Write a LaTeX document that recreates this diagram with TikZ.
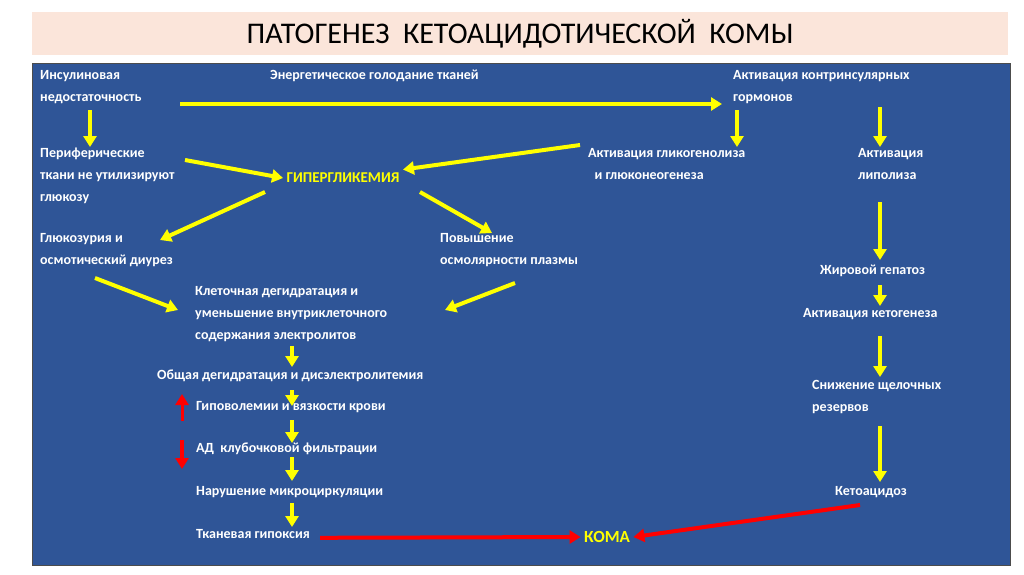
\documentclass[tikz,border=0pt]{standalone}
\usepackage{fontspec}
\setmainfont{Carlito}
\usetikzlibrary{arrows.meta}
\definecolor{panel}{HTML}{2F5597}
\definecolor{titlebg}{HTML}{FBE5DA}
\definecolor{yel}{HTML}{FFFF00}
\definecolor{redar}{HTML}{FF0000}
\tikzset{
  txt/.style={anchor=north west,align=left,text=white,font=\fontsize{14}{22}\selectfont\bfseries,inner sep=0pt},
  yarr/.style={draw=yel,line width=4pt,-{Triangle[length=11pt,width=13pt]}},
  rarr/.style={draw=redar,line width=4pt,-{Triangle[length=11pt,width=13pt]}}
}
\begin{document}
\begin{tikzpicture}[x=1pt,y=-1pt]
\useasboundingbox (0,0) rectangle (1024,574);
\fill[titlebg] (32,12) rectangle (1008,55);
\node[font=\fontsize{30}{32}\selectfont] (title) at (520,34) {ПАТОГЕНЕЗ\ \ КЕТОАЦИДОТИЧЕСКОЙ\ \ КОМЫ};
\filldraw[fill=panel,draw=gray!60!black,line width=1pt] (32,63) rectangle (1010,565);

\node[txt] (ins) at (40,70) {Инсулиновая\\недостаточность};
\node[txt] (en) at (270,70) {Энергетическое голодание тканей};
\node[txt] (akt) at (733,70) {Активация контринсулярных\\гормонов};
\node[txt] (per) at (40,148) {Периферические\\ткани не утилизируют\\глюкозу};
\node[font=\fontsize{15}{18}\selectfont\bfseries,text=yel] (hyp) at (343,178) {ГИПЕРГЛИКЕМИЯ};
\node[txt] (gl) at (588,148) {Активация гликогенолиза\\\ \ и глюконеогенеза};
\node[txt] (lip) at (858,148) {Активация\\липолиза};
\node[txt] (gz) at (40,233) {Глюкозурия и\\осмотический диурез};
\node[txt] (osm) at (440,233) {Повышение\\осмолярности плазмы};
\node[txt] (zh) at (820,265) {Жировой гепатоз};
\node[txt] (kl) at (195,286) {Клеточная дегидратация и\\уменьшение внутриклеточного\\содержания электролитов};
\node[txt] (ket) at (803,308) {Активация кетогенеза};
\node[txt] (ob) at (157,370) {Общая дегидратация и дисэлектролитемия};
\node[txt] (sn) at (812,380) {Снижение щелочных\\резервов};
\node[txt] (gip) at (196,401) {Гиповолемии и вязкости крови};
\node[txt] (ad) at (196,443) {АД\ \ клубочковой фильтрации};
\node[txt] (nar) at (196,486) {Нарушение микроциркуляции};
\node[txt] (ket2) at (835,486) {Кетоацидоз};
\node[txt] (tk) at (196,529) {Тканевая гипоксия};
\node[font=\fontsize{17}{20}\selectfont\bfseries,text=yel] (koma) at (607,537) {КОМА};

% yellow arrows
\draw[yarr] (180,104) -- (722,104);
\draw[yarr] (90,110) -- (90,147);
\draw[yarr] (737,110) -- (737,147);
\draw[yarr] (880,107) -- (880,147);
\draw[yarr] (185,160) -- (hyp.west);
\draw[yarr] (580,145) -- (hyp.north east);
\draw[yarr] (265,192) -- (160,240);
\draw[yarr] (420,192) -- (492,233);
\draw[yarr] (880,202) -- (880,260);
\draw[yarr] (880,285) -- (880,306);
\draw[yarr] (95,278) -- (178,310);
\draw[yarr] (515,283) -- (445,310);
\draw[yarr] (880,336) -- (880,377);
\draw[yarr] (880,426) -- (880,482);
\draw[yarr] (292,346) -- (292,367);
\draw[yarr] (292,390) -- (292,406);
\draw[yarr] (292,420) -- (292,443);
\draw[yarr] (292,457) -- (292,481);
\draw[yarr] (292,503) -- (292,527);
% red arrows
\draw[rarr,line width=3pt] (182,421) -- (182,394);
\draw[rarr] (182,440) -- (182,469);
\draw[rarr] (tk.east) ++(10,4) -- (koma.west);
\draw[rarr] (860,505) -- (koma.east);
\end{tikzpicture}
\end{document}
